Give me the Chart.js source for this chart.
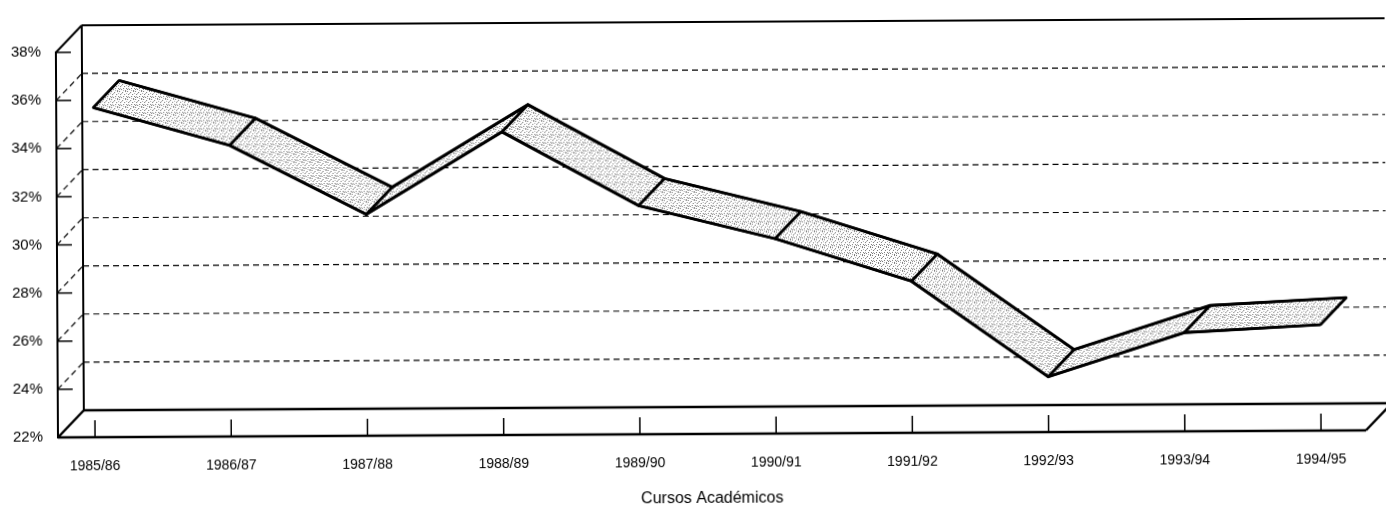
<!DOCTYPE html>
<html>
<head>
<meta charset="utf-8">
<script src="https://cdn.jsdelivr.net/npm/chart.js@4.4.0/dist/chart.umd.min.js"></script>
<style>
    html, body { margin: 0; padding: 0; background: #fff; overflow: hidden; }
    /* the scanned figure sits a little skewed on the page */
    #wrap { width: 1386px; height: 510px; transform: rotate(-0.31deg); }
</style>
</head>
<body>
<div id="wrap"><canvas id="lineChart"></canvas></div>
<script>
// 3D ribbon line chart, percentage per academic year

const courses = ["1985/86", "1986/87", "1987/88", "1988/89", "1989/90", "1990/91", "1991/92", "1992/93", "1993/94", "1994/95"];
const share = [35.7, 34.1, 31.2, 34.6, 31.5, 30.1, 28.3, 24.3, 26.1, 26.4];
const yTicks = [22, 24, 26, 28, 30, 32, 34, 36, 38];

// depth of the fake 3D box, in pixels
const depth = { x: 26, y: -27 };

// scattered grey dots, like the halftone of the print
function stipple(ctx) {
    const c = document.createElement('canvas');
    c.width = 8; c.height = 8;
    const g = c.getContext('2d');
    g.fillStyle = '#fff';
    g.fillRect(0, 0, 8, 8);
    g.fillStyle = '#777';
    [[0, 0], [3, 1], [6, 0], [1, 3], [5, 3], [7, 5], [2, 6], [4, 5], [6, 7], [0, 6]]
        .forEach(([px, py]) => g.fillRect(px, py, 1, 1));
    g.fillStyle = '#aaa';
    [[2, 2], [7, 2], [4, 7], [1, 5]].forEach(([px, py]) => g.fillRect(px, py, 1, 1));
    return ctx.createPattern(c, 'repeat');
}

function seg(ctx, x1, y1, x2, y2) {
    ctx.beginPath();
    ctx.moveTo(x1, y1);
    ctx.lineTo(x2, y2);
    ctx.stroke();
}

const box3d = {
    id: 'box3d',
    beforeDatasetsDraw(chart) {
        const { ctx, chartArea: a, scales: { x, y } } = chart;
        const dx = depth.x, dy = depth.y;
        ctx.save();
        ctx.strokeStyle = '#000';

        // dashed grid on back wall and left wall
        ctx.lineWidth = 1.2;
        ctx.setLineDash([6, 4]);
        yTicks.slice(1, -1).forEach(v => {
            const py = y.getPixelForValue(v);
            seg(ctx, a.left + dx, py + dy, chart.width, py + dy);
            seg(ctx, a.left, py, a.left + dx, py + dy);
        });
        ctx.setLineDash([]);

        // tick marks on the front edge
        ctx.lineWidth = 1.5;
        yTicks.slice(1).forEach(v => {
            const py = y.getPixelForValue(v);
            seg(ctx, a.left, py, a.left + 15, py);
        });

        // walls
        ctx.lineWidth = 2;
        seg(ctx, a.left + dx, a.top + dy, a.left + dx, a.bottom + dy);
        seg(ctx, a.left + dx, a.top + dy, chart.width, a.top + dy);
        seg(ctx, a.left, a.top, a.left + dx, a.top + dy);

        // floor
        ctx.lineWidth = 2.5;
        seg(ctx, a.left, a.bottom, a.right, a.bottom);
        seg(ctx, a.left + dx, a.bottom + dy, a.right + dx, a.bottom + dy);
        seg(ctx, a.left, a.bottom, a.left + dx, a.bottom + dy);
        seg(ctx, a.right, a.bottom, a.right + dx, a.bottom + dy);

        ctx.lineWidth = 1.5;
        courses.forEach((c, i) => {
            const px = x.getPixelForValue(i);
            seg(ctx, px, a.bottom, px, a.bottom - 17);
        });

        // ribbon faces
        const pts = chart.getDatasetMeta(0).data;
        ctx.fillStyle = stipple(ctx);
        ctx.lineWidth = 2.5;
        ctx.lineJoin = 'round';
        for (let i = 0; i < pts.length - 1; i++) {
            const p = pts[i], q = pts[i + 1];
            ctx.beginPath();
            ctx.moveTo(p.x, p.y);
            ctx.lineTo(q.x, q.y);
            ctx.lineTo(q.x + dx, q.y + dy);
            ctx.lineTo(p.x + dx, p.y + dy);
            ctx.closePath();
            ctx.fill();
            ctx.stroke();
        }
        ctx.restore();
    },
    beforeDatasetDraw(chart, args) {
        // second dataset is the back edge of the ribbon
        if (args.index === 1) {
            chart.ctx.save();
            chart.ctx.translate(depth.x, depth.y);
        }
    },
    afterDatasetDraw(chart, args) {
        if (args.index === 1) chart.ctx.restore();
    },
    afterDatasetsDraw(chart) {
        const ctx = chart.ctx;
        ctx.save();
        ctx.strokeStyle = '#000';
        ctx.lineWidth = 2.5;
        chart.getDatasetMeta(0).data.forEach(p => {
            seg(ctx, p.x, p.y, p.x + depth.x, p.y + depth.y);
        });
        ctx.restore();
    }
};

const points = share.map((v, i) => ({ x: i, y: v }));

new Chart(document.getElementById("lineChart"), {
    type: 'line',
    data: {
        datasets: [{
            label: "front",
            data: points,
            borderColor: '#000',
            borderWidth: 3,
            pointRadius: 0,
            tension: 0,
            clip: false
        }, {
            label: "back",
            data: points,
            borderColor: '#000',
            borderWidth: 3,
            pointRadius: 0,
            tension: 0,
            clip: false
        }]
    },
    options: {
        responsive: true,
        maintainAspectRatio: false,
        animation: false,
        layout: {
            padding: { top: 49, right: 21, left: 0, bottom: 0 }
        },
        plugins: {
            legend: { display: false },
            tooltip: { enabled: false }
        },
        scales: {
            x: {
                type: 'linear',
                min: -0.272,
                max: 9.33,
                afterFit: s => { s.height = 76; },
                grid: { display: false, drawTicks: false },
                border: { display: false },
                ticks: {
                    stepSize: 1,
                    includeBounds: false,
                    autoSkip: false,
                    maxRotation: 0,
                    padding: 21,
                    color: '#000',
                    font: { family: 'Liberation Sans', size: 14 },
                    callback: v => courses[v] || ''
                },
                title: {
                    display: true,
                    text: 'Cursos Académicos',
                    color: '#000',
                    font: { family: 'Liberation Sans', size: 16 },
                    padding: { top: 0, bottom: 2 }
                }
            },
            y: {
                min: 22,
                max: 38,
                afterFit: s => { s.width = 57; },
                grid: { display: false, drawTicks: false },
                border: { display: true, color: '#000', width: 2 },
                ticks: {
                    stepSize: 2,
                    padding: 15,
                    color: '#000',
                    font: { family: 'Liberation Sans', size: 15 },
                    callback: v => v + '%'
                }
            }
        }
    },
    plugins: [box3d]
});
</script>
</body>
</html>
